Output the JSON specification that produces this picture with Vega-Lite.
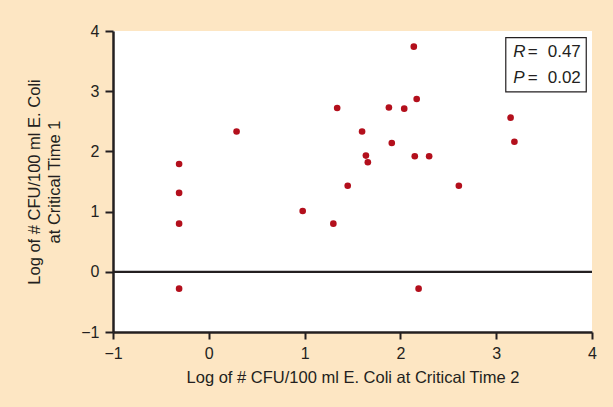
{
  "$schema": "https://vega.github.io/schema/vega-lite/v6.json",
  "width": 479,
  "height": 301,
  "autosize": {"type": "none"},
  "padding": {"left": 113, "top": 31, "right": 21, "bottom": 75},
  "background": "#fde6c3",
  "config": {
    "view": {"fill": "#ffffff", "stroke": null},
    "font": "Liberation Sans",
    "axis": {
      "domainColor": "#231f20",
      "domainWidth": 2.5,
      "tickColor": "#231f20",
      "tickWidth": 2,
      "grid": false,
      "labelFont": "Liberation Sans",
      "labelColor": "#231f20",
      "titleFont": "Liberation Sans",
      "titleFontWeight": "normal",
      "titleColor": "#231f20",
      "format": "d"
    }
  },
  "datasets": {
    "points": [
      {"t2": -0.31, "t1": 1.79},
      {"t2": -0.31, "t1": 1.31},
      {"t2": -0.31, "t1": 0.80},
      {"t2": -0.31, "t1": -0.28},
      {"t2": 0.29, "t1": 2.33},
      {"t2": 0.98, "t1": 1.01},
      {"t2": 1.30, "t1": 0.80},
      {"t2": 1.34, "t1": 2.72},
      {"t2": 1.45, "t1": 1.43},
      {"t2": 1.60, "t1": 2.33},
      {"t2": 1.64, "t1": 1.93},
      {"t2": 1.66, "t1": 1.82},
      {"t2": 1.88, "t1": 2.73},
      {"t2": 1.91, "t1": 2.14},
      {"t2": 2.04, "t1": 2.71},
      {"t2": 2.14, "t1": 3.74},
      {"t2": 2.15, "t1": 1.92},
      {"t2": 2.17, "t1": 2.87},
      {"t2": 2.30, "t1": 1.92},
      {"t2": 2.19, "t1": -0.28},
      {"t2": 2.61, "t1": 1.43},
      {"t2": 3.15, "t1": 2.56},
      {"t2": 3.19, "t1": 2.16}
    ],
    "box": [{"x1": 3.10, "x2": 3.94, "y1": 3.89, "y2": 2.99}],
    "italic": [
      {"x": 3.178, "y": 3.567, "txt": "R"},
      {"x": 3.178, "y": 3.135, "txt": "P"}
    ],
    "normal": [
      {"x": 3.329, "y": 3.567, "txt": "="},
      {"x": 3.538, "y": 3.567, "txt": "0.47"},
      {"x": 3.329, "y": 3.135, "txt": "="},
      {"x": 3.538, "y": 3.135, "txt": "0.02"}
    ],
    "zero": [{"y": 0}]
  },
  "layer": [
    {
      "data": {"name": "zero"},
      "mark": {"type": "rule", "color": "#231f20", "strokeWidth": 2.2},
      "encoding": {
        "y": {"field": "y", "type": "quantitative", "scale": {"domain": [-1, 4]}}
      }
    },
    {
      "data": {"name": "points"},
      "mark": {"type": "circle", "color": "#b30f1c", "opacity": 1, "size": 44},
      "encoding": {
        "x": {
          "field": "t2", "type": "quantitative",
          "scale": {"domain": [-1, 4], "nice": false, "zero": false},
          "axis": {
            "values": [-1, 0, 1, 2, 3, 4],
            "tickSize": 7,
            "labelPadding": 6,
            "labelFontSize": 16,
            "labelFlush": false,
            "title": "Log of # CFU/100 ml E. Coli at Critical Time 2",
            "titleFontSize": 16.5,
            "titlePadding": 8
          }
        },
        "y": {
          "field": "t1", "type": "quantitative",
          "scale": {"domain": [-1, 4], "nice": false, "zero": false},
          "axis": {
            "values": [-1, 0, 1, 2, 3, 4],
            "tickSize": 8,
            "labelPadding": 6,
            "labelFontSize": 16,
            "labelFlush": false,
            "title": ["Log of # CFU/100 ml E. Coli", "at Critical Time 1"],
            "titleFontSize": 16.5,
            "titlePadding": 18,
            "titleLineHeight": 20
          }
        }
      }
    },
    {
      "data": {"name": "box"},
      "mark": {"type": "rect", "fill": "#ffffff", "stroke": "#231f20", "strokeWidth": 1.2},
      "encoding": {
        "x": {"field": "x1", "type": "quantitative"},
        "x2": {"field": "x2"},
        "y": {"field": "y1", "type": "quantitative"},
        "y2": {"field": "y2"}
      }
    },
    {
      "data": {"name": "italic"},
      "mark": {"type": "text", "align": "left", "baseline": "alphabetic", "fontSize": 17, "fontStyle": "italic", "color": "#231f20"},
      "encoding": {
        "x": {"field": "x", "type": "quantitative"},
        "y": {"field": "y", "type": "quantitative"},
        "text": {"field": "txt"}
      }
    },
    {
      "data": {"name": "normal"},
      "mark": {"type": "text", "align": "left", "baseline": "alphabetic", "fontSize": 17, "color": "#231f20"},
      "encoding": {
        "x": {"field": "x", "type": "quantitative"},
        "y": {"field": "y", "type": "quantitative"},
        "text": {"field": "txt"}
      }
    }
  ]
}
